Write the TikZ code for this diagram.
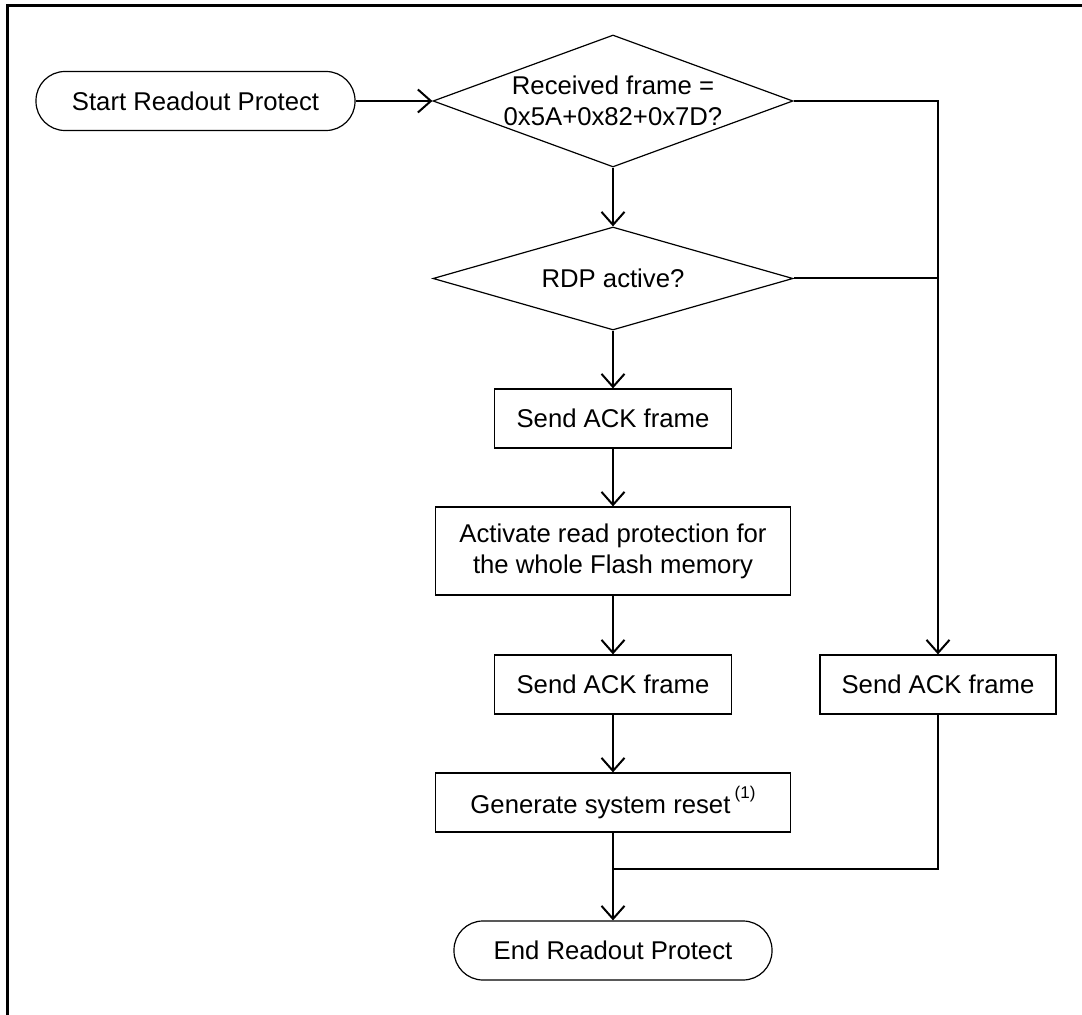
\documentclass[tikz,border=0pt]{standalone}
\usepackage{fontspec}
\setmainfont{Liberation Sans}
\usetikzlibrary{shapes.geometric,arrows.meta}
\begin{document}
\begin{tikzpicture}[x=0.5pt,y=-0.5pt,
  every node/.style={font=\fontsize{12.85}{15.5}\selectfont, inner sep=0pt, align=center},
  box/.style={draw, line width=0.6pt, rectangle, minimum height=29.5pt},
  term/.style={draw, line width=0.6pt, rectangle, rounded corners=14.5pt, minimum height=29.5pt},
  decision/.style={draw, line width=0.6pt, diamond, minimum width=180pt},
  flow/.style={line width=1pt, -{Straight Barb[length=6.5pt,width=11.5pt,line width=1pt]}},
  link/.style={line width=1pt}]
  \useasboundingbox (0,0) rectangle (1082,1015);
  % outer frame (left and top edges)
  \draw[line width=1.4pt] (7.5,1016) -- (7.5,5.5) -- (1083,5.5);

  \node[term, minimum width=159.5pt] (start) at (195.5,101) {Start Readout Protect};
  \node[decision, minimum height=66pt,
        label={[align=center]center:Received frame =\\0x5A+0x82+0x7D?}] (d1) at (613,101) {};
  \node[decision, minimum height=51.5pt,
        label={center:RDP active?}] (d2) at (613,278.5) {};
  \node[box, minimum width=118.5pt] (s1) at (613,418.5) {Send ACK frame};
  \node[box, minimum width=177.5pt, minimum height=44pt] (act) at (613,551)
       {Activate read protection for\\the whole Flash memory};
  \node[box, minimum width=118.5pt] (s2) at (613,684.5) {Send ACK frame};
  \node[box, minimum width=118pt] (sr) at (938,684.5) {Send ACK frame};
  \node[box, minimum width=177.5pt] (gen) at (613,802.5)
       {Generate system reset\,\raisebox{0.55em}{\fontsize{8.5}{10}\selectfont(1)}};
  \node[term, minimum width=159pt] (end) at (613,950.5) {End Readout Protect};
  \coordinate (j) at (613,869);

  \draw[flow] (start.east) -- (d1.west);
  \draw[flow] (d1.south) -- (d2.north);
  \draw[flow] (d2.south) -- (s1.north);
  \draw[flow] (s1.south) -- (act.north);
  \draw[flow] (act.south) -- (s2.north);
  \draw[flow] (s2.south) -- (gen.north);
  \draw[flow] (gen.south) -- (end.north);
  \draw[flow] (d1.east) -| (sr.north);
  \draw[link] (d2.east) -- (d2.east -| sr.north);
  \draw[link] (sr.south) |- (j);
\end{tikzpicture}
\end{document}
